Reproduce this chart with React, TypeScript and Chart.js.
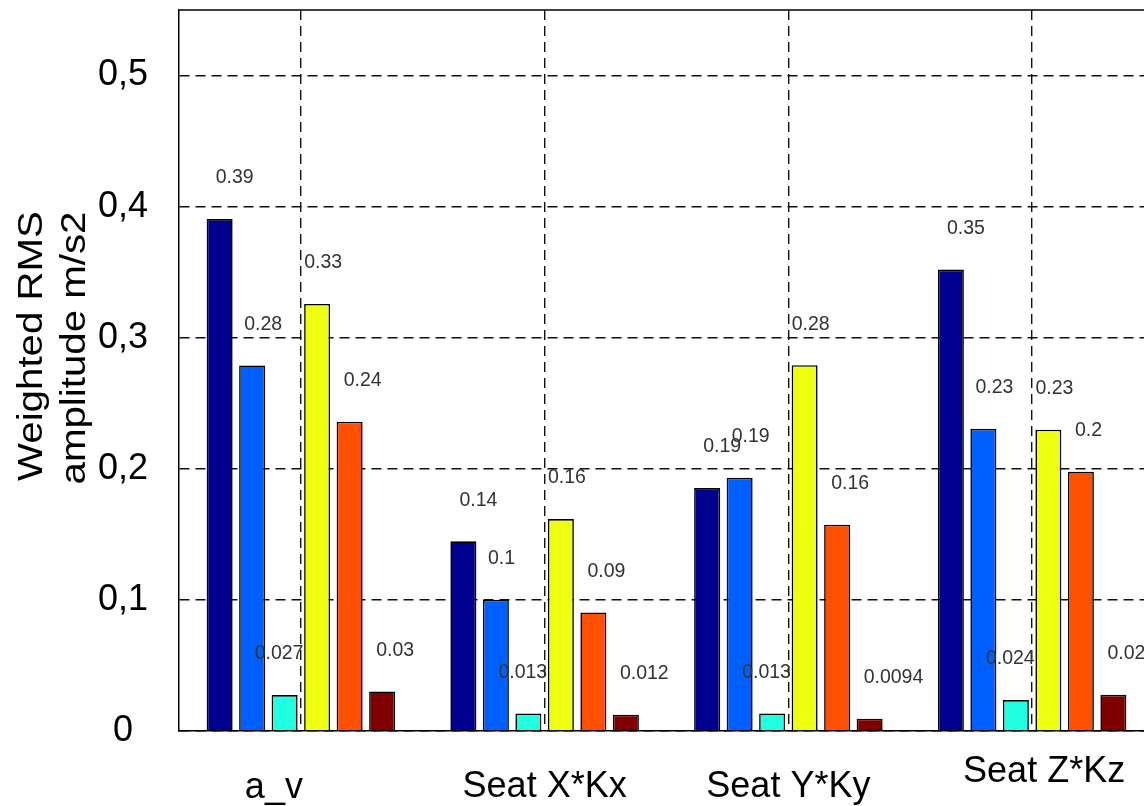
import { useEffect, useRef } from "react";
import { Chart, registerables } from "chart.js";

Chart.register(...registerables);

// Measurement groups along the x axis
const CATEGORIES = ["a_v", "Seat X*Kx", "Seat Y*Ky", "Seat Z*Kz"];

// Weighted RMS amplitudes (m/s2), one array per bar series
const SERIES_1 = [0.3905, 0.1447, 0.1853, 0.352];
const SERIES_2 = [0.2788, 0.1, 0.1932, 0.2305];
const SERIES_3 = [0.0274, 0.0134, 0.0134, 0.0236];
const SERIES_4 = [0.3258, 0.1617, 0.279, 0.2298];
const SERIES_5 = [0.236, 0.0904, 0.1574, 0.1977];
const SERIES_6 = [0.0302, 0.0124, 0.0094, 0.0276];

const SERIES = [SERIES_1, SERIES_2, SERIES_3, SERIES_4, SERIES_5, SERIES_6];
const SERIES_NAMES = ["S1", "S2", "S3", "S4", "S5", "S6"];

// jet colormap samples
const COLORS = ["#00008F", "#0060FF", "#20FFDF", "#EFFF10", "#FF5000", "#800000"];

const Y_TICKS_STEP = 0.1;
const Y_MAX = 0.55;

const FONT = "'Liberation Sans', Arial, Helvetica, sans-serif";

// value label placement: left-aligned text, horizontal shift per series (px)
const LABEL_DX = [-4, -8, -30, -13, -6, -6];
const LABEL_RISE = 41;

// category label shifts (px) and baseline drop below the axis (px)
const XLABEL_DX = [-27, 0, 0, 12];
const XLABEL_DROP = [67, 66, 66, 51];

const fmtValue = (v: number) => String(Number(v.toPrecision(2)));

const plotDecor = {
  id: "plotDecor",
  afterDatasetsDraw(chart: any) {
    const { ctx } = chart;
    ctx.save();
    ctx.font = `19.5px ${FONT}`;
    ctx.fillStyle = "#333";
    ctx.textAlign = "left";
    ctx.textBaseline = "middle";
    chart.data.datasets.forEach((ds: any, di: number) => {
      const meta = chart.getDatasetMeta(di);
      meta.data.forEach((bar: any, i: number) => {
        ctx.fillText(fmtValue(ds.data[i]), bar.x + LABEL_DX[di], bar.y - LABEL_RISE);
      });
    });
    ctx.restore();
  },
  afterDraw(chart: any) {
    const { ctx, chartArea } = chart;
    const xs = chart.scales.x;
    ctx.save();
    // box top and right edges
    ctx.strokeStyle = "#000";
    ctx.lineWidth = 1.5;
    ctx.beginPath();
    ctx.moveTo(chartArea.left, chartArea.top);
    ctx.lineTo(chartArea.right, chartArea.top);
    ctx.lineTo(chartArea.right, chartArea.bottom);
    ctx.stroke();

    // category labels
    ctx.fillStyle = "#000";
    ctx.font = `36px ${FONT}`;
    ctx.textAlign = "center";
    ctx.textBaseline = "alphabetic";
    CATEGORIES.forEach((c, i) => {
      ctx.fillText(c, xs.getPixelForValue(i) + XLABEL_DX[i], chartArea.bottom + XLABEL_DROP[i]);
    });

    // y axis title, two lines
    ctx.font = `35px ${FONT}`;
    const lines: [string, number, number][] = [
      ["Weighted RMS", 42, 346],
      ["amplitude m/s2", 85, 348],
    ];
    lines.forEach(([t, bx, cy]) => {
      ctx.save();
      ctx.translate(bx, cy);
      ctx.rotate(-Math.PI / 2);
      ctx.scale(1.15, 1);
      ctx.fillText(t, 0, 0);
      ctx.restore();
    });
    ctx.restore();
  },
};

export default function App() {
  const ref = useRef<HTMLCanvasElement>(null);

  useEffect(() => {
    document.body.style.margin = "0";
    const canvas = ref.current;
    if (!canvas) return;
    const chart = new Chart(canvas, {
      type: "bar",
      data: {
        labels: CATEGORIES,
        datasets: SERIES.map((d, i) => ({
          label: SERIES_NAMES[i],
          data: d,
          backgroundColor: COLORS[i],
          borderColor: "#000",
          borderWidth: 1.6,
          categoryPercentage: 0.8,
          barPercentage: 0.8,
        })),
      },
      options: {
        responsive: false,
        animation: false,
        devicePixelRatio: 1,
        layout: { padding: { top: 10, left: 0, right: 16, bottom: 0 } },
        plugins: {
          legend: { display: false },
          tooltip: { enabled: false },
          title: { display: false },
        },
        scales: {
          x: {
            offset: true,
            afterFit: (s: any) => {
              s.height = 75;
              s.paddingLeft = 0;
              s.paddingRight = 0;
            },
            ticks: { display: false },
            grid: {
              offset: false,
              drawTicks: false,
              color: "#111",
              lineWidth: 1.4,
            },
            border: { display: true, color: "#000", width: 1.5, dash: [10, 6] },
          },
          y: {
            min: 0,
            max: Y_MAX,
            afterFit: (s: any) => {
              s.width = 179;
              s.paddingTop = 0;
              s.paddingBottom = 0;
            },
            ticks: {
              stepSize: Y_TICKS_STEP,
              includeBounds: false,
              crossAlign: "center",
              padding: 31,
              color: "#000",
              font: { family: FONT, size: 36 },
              callback: (v: any) => {
                const n = Number(v);
                return n === 0 ? "0" : n.toFixed(1).replace(".", ",");
              },
            },
            grid: {
              drawTicks: false,
              color: "#111",
              lineWidth: 1.4,
            },
            border: { display: true, color: "#000", width: 1.5, dash: [10, 6] },
          },
        },
      },
      plugins: [plotDecor],
    } as any);
    return () => chart.destroy();
  }, []);

  return (
    <div style={{ width: 1144, height: 806, overflow: "hidden", position: "relative", background: "#fff" }}>
      <canvas ref={ref} width={1170} height={806} style={{ display: "block" }} />
    </div>
  );
}
